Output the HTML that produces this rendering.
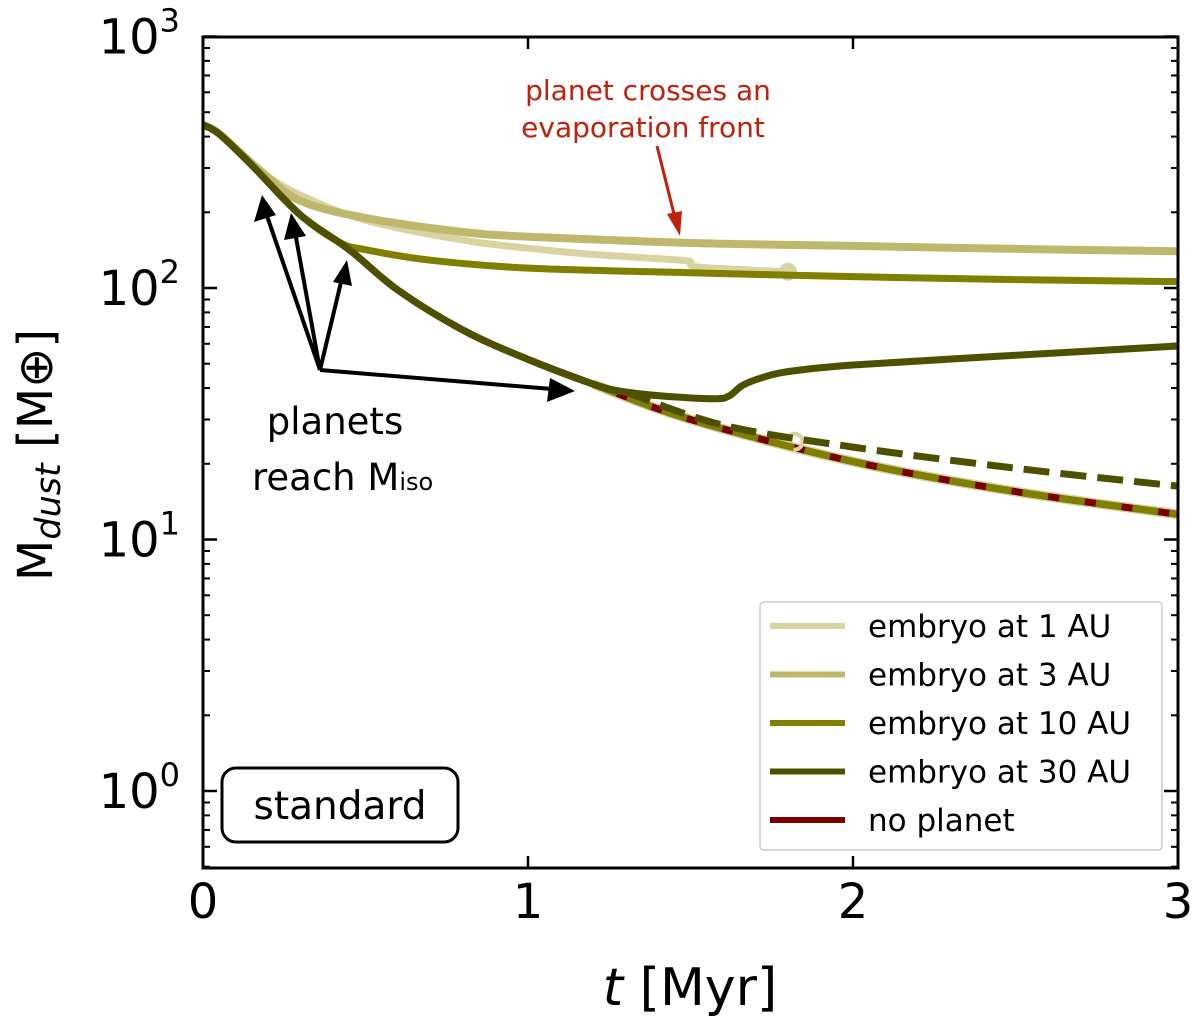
<!DOCTYPE html>
<html><head><meta charset="utf-8"><style>
body{margin:0;background:#fff}
svg text{font-family:"DejaVu Sans","Liberation Sans",sans-serif}
</style></head><body>
<svg id="chart" width="1200" height="1025" viewBox="0 0 1200 1025" xmlns="http://www.w3.org/2000/svg">
<g id="ticks"></g>
<g id="series"></g>
<rect x="203" y="37" width="975" height="831" fill="none" stroke="#000" stroke-width="3"/>
<g id="labels" font-size="48"></g>
<text transform="translate(52,455) rotate(-90)" text-anchor="middle" font-size="48">M<tspan font-style="italic" font-size="35" dy="8">dust</tspan><tspan dy="-8"> [M⊕]</tspan></text>
<text x="690" y="1005" text-anchor="middle" font-size="52"><tspan font-style="italic">t</tspan> [Myr]</text>
<g stroke="#000" stroke-width="4" fill="none">
<line x1="320" y1="370" x2="266" y2="213"/><line x1="320" y1="370" x2="295" y2="232"/><line x1="320" y1="370" x2="342" y2="278"/><line x1="320" y1="370" x2="552" y2="389"/>
</g>
<g fill="#000">
<polygon points="262,195 254,222 276,215"/><polygon points="291,213 284,240 306,236"/><polygon points="347,260 333,282 352,286"/><polygon points="575,391 550,378 547,402"/>
</g>
<line x1="657" y1="146" x2="675" y2="218" stroke="#c0210b" stroke-width="3"/>
<polygon points="680,236 667,214 682,211" fill="#c0210b"/>
<text x="648" y="100" text-anchor="middle" font-size="28" fill="#c0210b">planet crosses an</text>
<text x="643" y="137" text-anchor="middle" font-size="28" fill="#c0210b">evaporation front</text>
<text x="335" y="434" text-anchor="middle" font-size="37">planets</text>
<text x="252" y="490" font-size="37">reach M<tspan font-size="24">iso</tspan></text>
<rect x="222" y="768" width="236" height="74" rx="14" fill="#fff" stroke="#000" stroke-width="3"/>
<text x="340" y="819" text-anchor="middle" font-size="39">standard</text>
<g>
<rect x="760" y="602" width="402" height="248" fill="#fff" stroke="#ccc" stroke-width="1.5" rx="4"/>
<g id="legend-items"></g>
</g>
</svg>
<script>
const tVals=[0,0.05,0.15,0.3,0.45,0.6,0.8,1.0,1.2,1.5,2.0,2.5,3.0];
const noPlanet=[445,410,308,195,142,98,68,52,41.5,30,20.4,15.5,12.6];
const t1AU=[0,0.05,0.18,0.3,0.5,0.8,1.0,1.2,1.47,1.5,1.53,1.8];
const m1AU=[445,410,290,234,186,155,144,136,129,126,121,116];
const t3AU=[0,0.05,0.18,0.3,0.5,0.8,1.0,1.5,2.0,2.5,3.0];
const m3AU=[445,410,290,222,190,167,160,151,147,143,140];
const t10AU=[0,0.05,0.15,0.3,0.42,0.5,0.7,1.0,1.5,2.0,2.5,3.0];
const m10AU=[445,410,308,195,152,142,129,120,115,111,108,106];
const t30AU=[0,0.05,0.15,0.3,0.45,0.6,0.8,1.0,1.2,1.3,1.45,1.58,1.62,1.66,1.72,1.8,2.0,2.5,3.0];
const m30AU=[445,410,308,195,142,98,68,52,41.5,38.6,36.9,36.3,37.3,41,44,46.5,49.4,54,58.8];
const t30dash=[1.3,1.6,2.0,2.5,3.0];
const m30dash=[38.6,28.5,23.3,19.2,16.3];
const tDash=[1.2,1.5,2.0,2.5,3.0];
const mDash=[41.5,30,20.4,15.5,12.6];
const xTicks=[0,1,2,3];
const yDecades=[0,1,2,3];
const legendLabels=["embryo at 1 AU","embryo at 3 AU","embryo at 10 AU","embryo at 30 AU","no planet"];
const colors=["#d8d3a0","#bdb86c","#7f7f00","#4f4f00","#7a0000"];

const X=t=>203+t*325, Y=m=>288-(Math.log10(m)-2)*251.5;
const NS="http://www.w3.org/2000/svg";
function mk(tag,attrs,parent){const e=document.createElementNS(NS,tag);for(const k in attrs)e.setAttribute(k,attrs[k]);parent.appendChild(e);return e;}
const S=document.getElementById('series');
function path(ts,ms){const P=ts.map((t,i)=>[X(t),Y(ms[i])]);let d='M'+P[0][0].toFixed(1)+','+P[0][1].toFixed(1);
for(let i=0;i<P.length-1;i++){const p0=P[Math.max(0,i-1)],p1=P[i],p2=P[i+1],p3=P[Math.min(P.length-1,i+2)];
const c1=[p1[0]+(p2[0]-p0[0])/6,p1[1]+(p2[1]-p0[1])/6],c2=[p2[0]-(p3[0]-p1[0])/6,p2[1]-(p3[1]-p1[1])/6];
d+=' C'+c1.map(v=>v.toFixed(1)).join(',')+' '+c2.map(v=>v.toFixed(1)).join(',')+' '+p2[0].toFixed(1)+','+p2[1].toFixed(1);}return d;}
function line(ts,ms,col,w,name,dash){const p=mk('path',{d:path(ts,ms),fill:'none',stroke:col,'stroke-width':w,'stroke-linejoin':'round'},S);if(dash)p.setAttribute('stroke-dasharray',dash);

return p;}
line(tDash,mDash,colors[0],10,'embryo-1au-dashed');
line(tVals,noPlanet,colors[4],7,'no-planet-line');
line(t1AU,m1AU,colors[0],7,'embryo-1au-line');
const c1=mk('circle',{cx:X(1.8),cy:Y(116),r:9,fill:colors[0]},S);


const c2=mk('circle',{cx:X(1.82),cy:Y(24.5),r:8,fill:'none',stroke:colors[0],'stroke-width':4},S);


line(t3AU,m3AU,colors[1],8,'embryo-3au-line');
line(t10AU,m10AU,colors[2],7,'embryo-10au-line');
line(tDash,mDash,colors[2],7,'embryo-10au-dashed','26 11');
line(t30AU,m30AU,colors[3],7,'embryo-30au-line');
line(t30dash,m30dash,colors[3],7,'embryo-30au-dashed','26 11');

const T=document.getElementById('ticks'),L=document.getElementById('labels');
xTicks.forEach(v=>{const x=X(v);
const a=mk('line',{x1:x,x2:x,y1:868,y2:856,stroke:'#000','stroke-width':2.5},T);
const b=mk('line',{x1:x,x2:x,y1:37,y2:49,stroke:'#000','stroke-width':2.5},T);
const t=mk('text',{x:x,y:918,'text-anchor':'middle'},L);t.textContent=v;});
yDecades.forEach(d=>{const y=Y(Math.pow(10,d));
[[203,217],[1178,1164]].forEach(([a,b])=>{const l=mk('line',{x1:a,x2:b,y1:y,y2:y,stroke:'#000','stroke-width':2.5},T);});
const t=mk('text',{x:180,y:y+17,'text-anchor':'end'},L);
t.innerHTML='10<tspan font-size="32" dy="-22">'+d+'</tspan>';});
for(let d=-1;d<3;d++)for(let k=2;k<10;k++){const m=k*Math.pow(10,d);if(m<0.5)continue;const y=Y(m);
[[203,210],[1178,1171]].forEach(([a,b])=>{const l=mk('line',{x1:a,x2:b,y1:y,y2:y,stroke:'#000','stroke-width':2},T);});}

const LG=document.getElementById('legend-items');
legendLabels.forEach((lab,i)=>{const y=626+i*48.5;
const l=mk('line',{x1:770,x2:845,y1:y,y2:y,stroke:colors[i],'stroke-width':6},LG);
const t=mk('text',{x:868,y:y+11,'font-size':31},LG);t.textContent=lab;});
</script>
</body></html>
